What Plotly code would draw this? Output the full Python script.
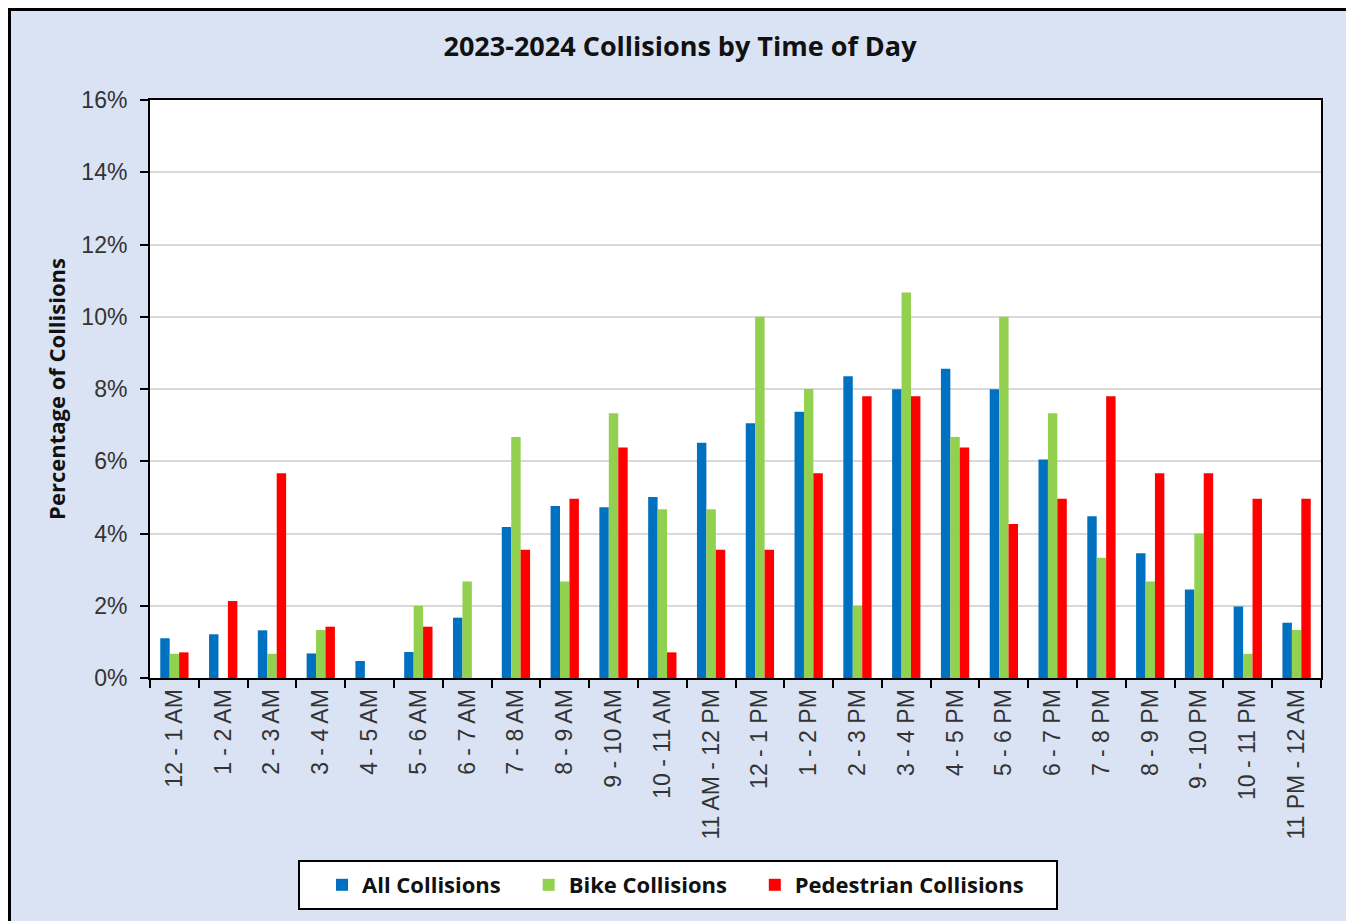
import plotly.graph_objects as go

categories = ["12 - 1 AM", "1 - 2 AM", "2 - 3 AM", "3 - 4 AM", "4 - 5 AM", "5 - 6 AM",
              "6 - 7 AM", "7 - 8 AM", "8 - 9 AM", "9 - 10 AM", "10 - 11 AM", "11 AM - 12 PM",
              "12 - 1 PM", "1 - 2 PM", "2 - 3 PM", "3 - 4 PM", "4 - 5 PM", "5 - 6 PM",
              "6 - 7 PM", "7 - 8 PM", "8 - 9 PM", "9 - 10 PM", "10 - 11 PM", "11 PM - 12 AM"]

all_collisions = [1.10, 1.21, 1.32, 0.68, 0.47, 0.72, 1.67, 4.18, 4.76, 4.73, 5.01, 6.51,
                  7.05, 7.37, 8.35, 7.99, 8.56, 7.99, 6.05, 4.48, 3.45, 2.45, 1.98, 1.53]
bike_collisions = [0.67, 0.0, 0.67, 1.33, 0.0, 2.00, 2.67, 6.67, 2.67, 7.33, 4.67, 4.67,
                   10.00, 8.00, 2.00, 10.67, 6.67, 10.00, 7.33, 3.33, 2.67, 4.00, 0.67, 1.33]
ped_collisions = [0.71, 2.13, 5.67, 1.42, 0.0, 1.42, 0.0, 3.55, 4.96, 6.38, 0.71, 3.55,
                  3.55, 5.67, 7.80, 7.80, 6.38, 4.26, 4.96, 7.80, 5.67, 5.67, 4.96, 4.96]

y_ticks = [0, 2, 4, 6, 8, 10, 12, 14, 16]
y_tick_text = [f"{v}%" for v in y_ticks]

series = [
    ("All Collisions", all_collisions, "#0070C0"),
    ("Bike Collisions", bike_collisions, "#92D050"),
    ("Pedestrian Collisions", ped_collisions, "#FF0000"),
]

NBSP = "\u00a0"
fig = go.Figure()
for i, (name, vals, color) in enumerate(series):
    pad = NBSP * 4 if i < len(series) - 1 else ""
    fig.add_trace(go.Bar(x=categories, y=vals, name=f"<b>{name}</b>{pad}",
                         marker=dict(color=color, line=dict(width=0))))

# page body adds an 8px offset; work in screen pixels
OFF = 8
L, R, T, B = 150, 1321, 100, 678
W, H = 1354 - OFF, 921 - OFF
pw, ph = R - L, B - T

def px_x(p):
    return (p - L) / pw

def px_y(p):
    return (B - p) / ph

BOLD_FONT = "Open Sans, Roboto, Liberation Sans, Arial, sans-serif"

fig.update_layout(
    width=W, height=H,
    margin=dict(l=L - OFF, r=W - (R - OFF), t=T - OFF, b=H - (B - OFF), pad=0),
    paper_bgcolor="#DAE3F3",
    plot_bgcolor="white",
    barmode="group",
    bargap=0.42,
    bargroupgap=0,
    font=dict(family="Liberation Sans, Arial, sans-serif", color="#333333"),
    title=dict(text="<b>2023-2024 Collisions by Time of Day</b>",
               x=px_x(680), xanchor="center", xref="paper",
               y=1 - (47 - OFF) / H, yanchor="middle",
               font=dict(size=27, color="#111111", family=BOLD_FONT)),
    legend=dict(orientation="h", x=px_x(322), xanchor="left",
                y=px_y(885), yanchor="middle",
                bgcolor="rgba(0,0,0,0)", borderwidth=0,
                font=dict(size=22, color="#111111", family=BOLD_FONT),
                itemsizing="constant"),
    showlegend=True,
)

fig.update_yaxes(
    range=[0, 16], tickvals=y_ticks, ticktext=y_tick_text,
    showgrid=True, gridcolor="#D9D9D9", gridwidth=2,
    showline=True, linecolor="black", linewidth=2, mirror=True,
    ticks="outside", ticklen=8, tickcolor="black", tickwidth=2,
    ticklabelstandoff=8,
    tickfont=dict(size=23, color="#333333"),
    title=dict(text="<b>Percentage of Collisions</b>", standoff=10,
               font=dict(size=22, color="#111111", family=BOLD_FONT)),
    zeroline=False, fixedrange=True,
)
fig.update_xaxes(
    tickangle=-90, tickson="boundaries",
    showline=True, linecolor="black", linewidth=2, mirror=True,
    ticks="outside", ticklen=8, tickcolor="black", tickwidth=2,
    tickfont=dict(size=23, color="#333333"),
    showgrid=False, fixedrange=True,
)

# outer chart-area border
fig.add_shape(type="rect", xref="paper", yref="paper",
              x0=px_x(9.5), x1=px_x(1350.5), y0=px_y(9.5), y1=px_y(960),
              fillcolor="rgba(0,0,0,0)", line=dict(color="black", width=3),
              layer="below")
# legend box
fig.add_shape(type="rect", xref="paper", yref="paper",
              x0=px_x(299), x1=px_x(1057), y0=px_y(861), y1=px_y(909),
              fillcolor="white", line=dict(color="black", width=2),
              layer="below")

fig.write_html("out.html")
